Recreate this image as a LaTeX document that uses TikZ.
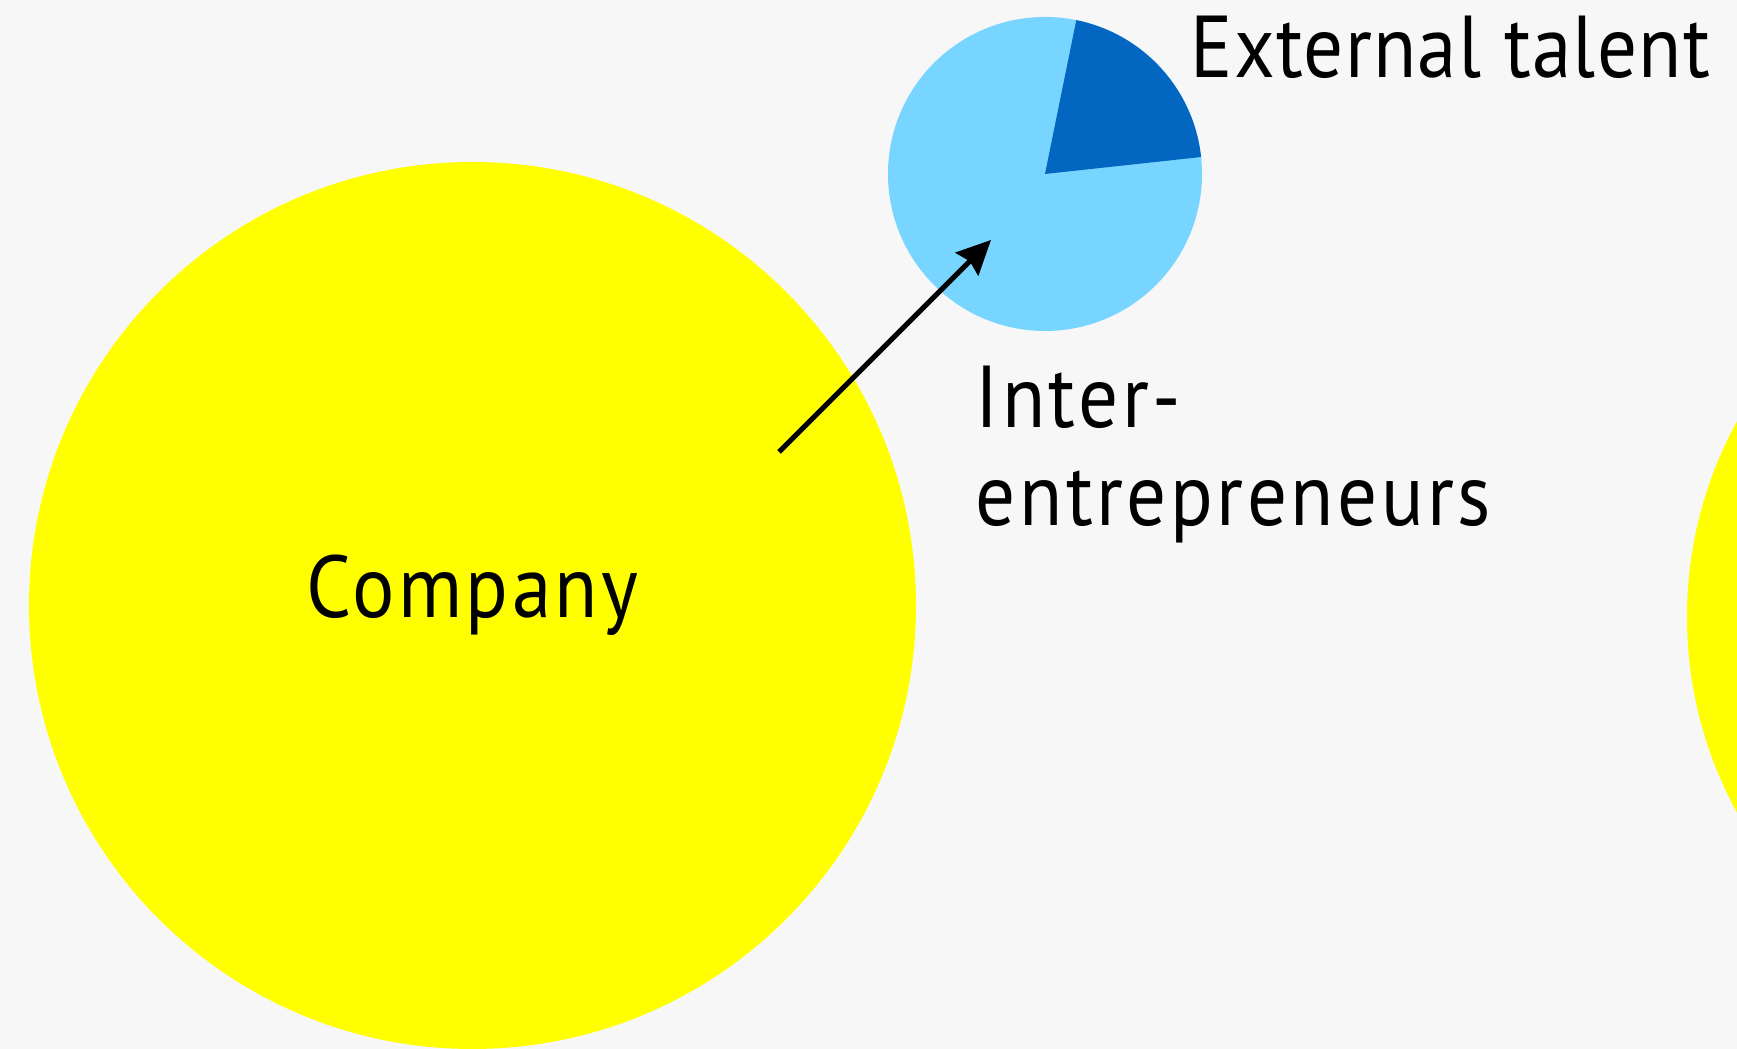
\documentclass[tikz,border=0pt]{standalone}
\usepackage{fontspec}
\setmainfont{PT Sans}[FakeStretch=0.9,LetterSpace=4]
\usetikzlibrary{arrows.meta,positioning}
\definecolor{bgGrey}{HTML}{F7F7F7}
\definecolor{coYellow}{HTML}{FFFF00}
\definecolor{talentLight}{HTML}{77D5FF}
\definecolor{talentDark}{HTML}{0366C0}

\begin{document}
\begin{tikzpicture}[lbl/.style={inner sep=0pt, font=\fontsize{25}{28.1}\selectfont}]
    \fill[bgGrey] (0,0) rectangle (17.37,10.49);
    \useasboundingbox (0,0) rectangle (17.37,10.49);
    \clip (0,0) rectangle (17.37,10.49);
    % circles
    \fill[coYellow] (4.725,4.435) circle (4.435);
    \fill[coYellow] (20.94,4.32) circle (4.07);
    \fill[talentLight] (10.45,8.75) circle (1.57);
    \fill[talentDark] (10.45,8.75) -- ++(6.2:1.57) arc (6.2:78.5:1.57) -- cycle;
    % labels
    \node[lbl, anchor=base] (company) at (4.725,4.31) {Company};
    \node[lbl, anchor=base west, font=\fontsize{25}{28.1}\selectfont\addfontfeature{LetterSpace=1.5}] (ext) at (11.9,9.71) {External talent};
    \node[lbl, anchor=base west, align=left] (inter) at (9.75,5.23) {Inter-\\entrepreneurs};
    % arrow
    \coordinate (from) at (7.79,5.97);
    \coordinate (to) at (9.91,8.09);
    \draw[line width=1.5pt, -{Stealth[length=0.34cm, width=0.32cm, inset=0.04cm]}] (from) -- (to);
\end{tikzpicture}
\end{document}
